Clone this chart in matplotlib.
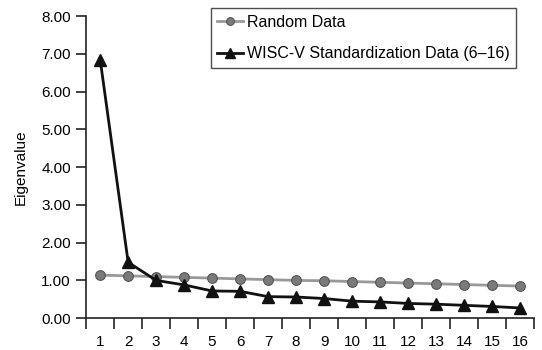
import numpy as np
import matplotlib.pyplot as plt

plt.rcParams['font.family'] = ['Liberation Sans', 'DejaVu Sans']

# Data
factors = list(range(1, 17))
random_data = [1.14, 1.12, 1.10, 1.08, 1.06, 1.04, 1.02, 1.00,
               0.99, 0.97, 0.95, 0.93, 0.91, 0.89, 0.87, 0.85]
wisc_data = [6.85, 1.48, 1.00, 0.88, 0.72, 0.71, 0.57, 0.56,
             0.52, 0.45, 0.43, 0.39, 0.37, 0.34, 0.31, 0.27]
y_ticks = [0, 1, 2, 3, 4, 5, 6, 7, 8]

fig = plt.figure(figsize=(5.42, 3.5), dpi=100)
ax = fig.add_axes([0.159, 0.091, 0.826, 0.863])

ax.plot(factors, random_data, '-o', color='#999999', linewidth=2,
        markersize=7, markerfacecolor='#7a7a7a', markeredgecolor='#555555',
        markeredgewidth=0.8, label='Random Data')
ax.plot(factors, wisc_data, '-^', color='#111111', linewidth=2,
        markersize=8.5, markerfacecolor='#111111', markeredgecolor='#111111',
        label='WISC-V Standardization Data (6\u201316)')

ax.set_xlim(0.5, 16.5)
ax.set_ylim(0, 8)

# category labels centered, tick marks at boundaries
ax.set_xticks(factors)
ax.set_xticklabels([str(f) for f in factors], fontsize=11)
ax.set_xticks(np.arange(0.5, 17, 1), minor=True)
ax.tick_params(axis='x', which='major', length=0, pad=12)
ax.tick_params(axis='x', which='minor', length=8, width=1.2, direction='out', color='#222222')

ax.set_yticks(y_ticks)
ax.set_yticklabels([f'{v:.2f}' for v in y_ticks], fontsize=11)
ax.tick_params(axis='y', length=7, width=1.2, direction='out', color='#222222', pad=4)

for s in ['top', 'right']:
    ax.spines[s].set_visible(False)
for s in ['left', 'bottom']:
    ax.spines[s].set_linewidth(1.2)
    ax.spines[s].set_color('#222222')

ax.set_ylabel('Eigenvalue', fontsize=11, labelpad=10)

leg = ax.legend(loc='upper left', bbox_to_anchor=(0.279, 1.026), fontsize=11.5,
                frameon=True, fancybox=False, handlelength=1.6,
                handletextpad=0.25, borderpad=0.4, labelspacing=1.05,
                borderaxespad=0, markerscale=0.8)
leg.get_frame().set_edgecolor('#222222')
leg.get_frame().set_linewidth(1.0)

fig.savefig('out.png', dpi=100)
